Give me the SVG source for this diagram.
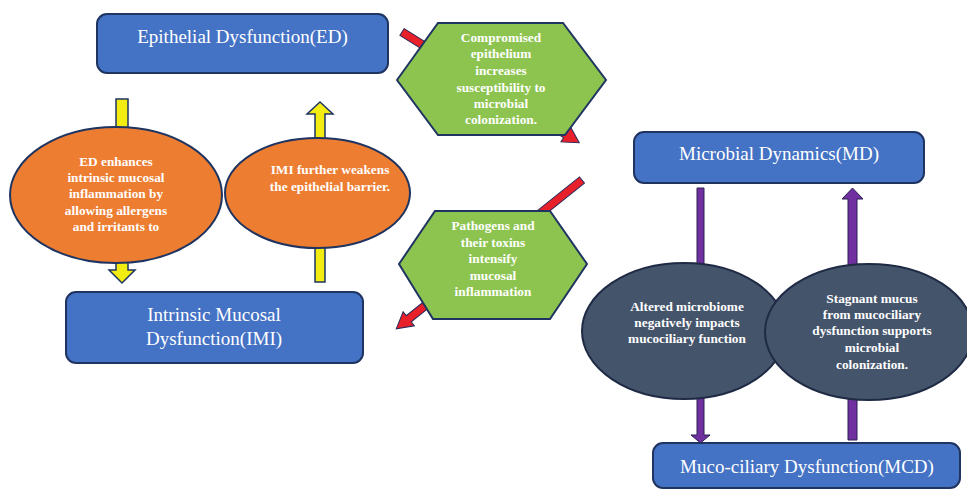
<svg xmlns="http://www.w3.org/2000/svg" width="967" height="490" viewBox="0 0 967 490">
<style>
.box{fill:#4472c4;stroke:#1f3461;stroke-width:2}
.bt{font-family:"Liberation Serif",serif;font-size:19px;fill:#ffffff;text-anchor:middle}
.lt{font-family:"Liberation Serif",serif;font-size:13.3px;font-weight:bold;fill:#ffffff;text-anchor:middle}
.orange{fill:#ed7d31;stroke:#1f3461;stroke-width:2}
.dark{fill:#44546a;stroke:#1f2a44;stroke-width:2}
.hex{fill:#8dc44f;stroke:#1f3461;stroke-width:2}
.yel{fill:#f2ec10;stroke:#1f3461;stroke-width:1.5}
.red{fill:#e8202a;stroke:#2a2a5a;stroke-width:1}
.pur{fill:#7030a0;stroke:#2a2050;stroke-width:1}
</style>
<rect width="967" height="490" fill="#ffffff"/>
<g id="connectors">
  <polygon class="yel" points="116,99 128,99 128,270 135,270 122,283 109,270 116,270"/>
  <polygon class="yel" points="315,282 325,282 325,114 333,114 320,102 307,114 315,114"/>
  <g transform="translate(402,32) rotate(32)">
    <polygon class="red" points="0,-4 193,-4 193,-9 209,0 193,9 193,4 0,4"/>
  </g>
  <g transform="translate(582,180) rotate(141.3)">
    <polygon class="red" points="0,-4 222,-4 222,-9 238,0 222,9 222,4 0,4"/>
  </g>
  <polygon class="pur" points="697,188 704,188 704,435 710,435 700.5,443 691,435 697,435"/>
  <polygon class="pur" points="848,440 857,440 857,199 863,199 852.5,188 842,199 848,199"/>
</g>
<g id="ed">
  <rect class="box" x="97" y="14" width="291" height="59" rx="10"/>
  <text class="bt" x="242.5" y="43">Epithelial Dysfunction(ED)</text>
</g>
<g id="imi">
  <rect class="box" x="66" y="292" width="297" height="71" rx="10"/>
  <text class="bt" x="214" y="321">Intrinsic Mucosal</text>
  <text class="bt" x="214" y="345">Dysfunction(IMI)</text>
</g>
<g id="md">
  <rect class="box" x="634" y="132" width="290" height="51" rx="10"/>
  <text class="bt" x="779" y="160">Microbial Dynamics(MD)</text>
</g>
<g id="mcd">
  <rect class="box" x="653" y="443" width="307" height="45" rx="10"/>
  <text class="bt" x="807" y="473">Muco-ciliary Dysfunction(MCD)</text>
</g>
<g id="ed-imi">
  <ellipse class="orange" cx="116" cy="195" rx="106" ry="68"/>
  <text class="lt" x="116" y="166">ED enhances</text>
  <text class="lt" x="116" y="182">intrinsic mucosal</text>
  <text class="lt" x="116" y="198">inflammation by</text>
  <text class="lt" x="116" y="215">allowing allergens</text>
  <text class="lt" x="116" y="231">and irritants to</text>
</g>
<g id="imi-ed">
  <ellipse class="orange" cx="317.5" cy="193" rx="92.5" ry="55"/>
  <text class="lt" x="330" y="174">IMI further weakens</text>
  <text class="lt" x="330" y="191">the epithelial barrier.</text>
</g>
<g id="ed-md">
  <polygon class="hex" points="397,80 438,23 563,23 606,80 565,135 438,135"/>
  <text class="lt" x="501" y="42">Compromised</text>
  <text class="lt" x="501" y="58">epithelium</text>
  <text class="lt" x="501" y="75">increases</text>
  <text class="lt" x="501" y="92">susceptibility to</text>
  <text class="lt" x="501" y="108">microbial</text>
  <text class="lt" x="501" y="124">colonization.</text>
</g>
<g id="md-imi">
  <polygon class="hex" points="399,264 435,211 550,211 587,264 550,319 433,319"/>
  <text class="lt" x="493" y="230">Pathogens and</text>
  <text class="lt" x="493" y="247">their toxins</text>
  <text class="lt" x="493" y="263">intensify</text>
  <text class="lt" x="493" y="280">mucosal</text>
  <text class="lt" x="493" y="296">inflammation</text>
</g>
<g id="md-mcd">
  <ellipse class="dark" cx="684" cy="331" rx="102" ry="68"/>
  <text class="lt" x="687" y="311">Altered microbiome</text>
  <text class="lt" x="687" y="327">negatively impacts</text>
  <text class="lt" x="687" y="343">mucociliary function</text>
</g>
<g id="mcd-md">
  <ellipse class="dark" cx="869" cy="332" rx="104" ry="68"/>
  <text class="lt" x="872" y="303">Stagnant mucus</text>
  <text class="lt" x="872" y="319">from mucociliary</text>
  <text class="lt" x="872" y="335">dysfunction supports</text>
  <text class="lt" x="872" y="352">microbial</text>
  <text class="lt" x="872" y="369">colonization.</text>
</g>
</svg>
